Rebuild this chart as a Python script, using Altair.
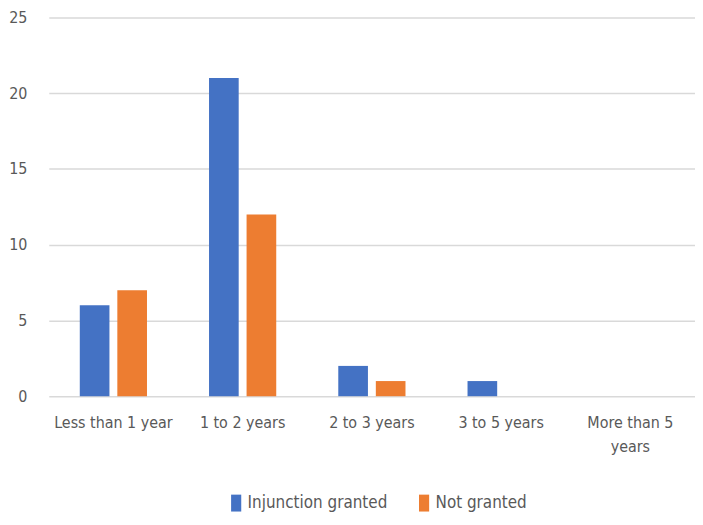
import altair as alt
import pandas as pd

categories = ["Less than 1 year", "1 to 2 years", "2 to 3 years", "3 to 5 years", "More than 5 years"]
series_names = ["Injunction granted", "Not granted"]
injunction_granted = [6, 21, 2, 1, 0]
not_granted = [7, 12, 1, 0, 0]
colors = ["#4472C4", "#ED7D31"]
y_ticks = [0, 5, 10, 15, 20, 25]

rows = []
for c, a, b in zip(categories, injunction_granted, not_granted):
    rows.append({"category": c, "series": series_names[0], "value": a})
    rows.append({"category": c, "series": series_names[1], "value": b})
df = pd.DataFrame(rows)

font = "DejaVu Sans Condensed, sans-serif"
label_color = "#595959"

chart = alt.Chart(df).mark_bar().encode(
    x=alt.X(
        "category:N", sort=categories,
        scale=alt.Scale(paddingInner=0.48, paddingOuter=0.24),
        axis=alt.Axis(
            title=None, labelAngle=0, ticks=False, domain=False, grid=False,
            labelFont=font, labelFontSize=16, labelColor=label_color,
            labelPadding=18, labelLineHeight=25, labelBaseline="top",
            labelExpr="datum.label == 'More than 5 years' ? ['More than 5', 'years'] : datum.label",
        ),
    ),
    xOffset=alt.XOffset("series:N", sort=series_names,
                        scale=alt.Scale(paddingInner=0.21, paddingOuter=0)),
    y=alt.Y(
        "value:Q", scale=alt.Scale(domain=[0, 25]),
        axis=alt.Axis(
            title=None, values=y_ticks, ticks=False, domain=False,
            labelFont=font, labelFontSize=16, labelColor=label_color,
            labelPadding=22, gridColor="#D9D9D9", gridWidth=1.5,
        ),
    ),
    color=alt.Color(
        "series:N", sort=series_names,
        scale=alt.Scale(domain=series_names, range=colors),
        legend=alt.Legend(
            title=None, orient="none", direction="horizontal",
            legendX=180, legendY=480,
            symbolType="M-0.6,-1H0.6V1H-0.6Z", symbolSize=289,
            symbolStrokeWidth=0, labelFont=font, labelFontSize=17,
            labelColor=label_color, labelOffset=3, columnPadding=28,
            labelLimit=0,
        ),
    ),
).properties(
    width=650, height=381,
    padding={"left": 0, "top": 0, "right": 0, "bottom": 0},
).configure_view(stroke=None)

chart.save("out.html", embed_options={"renderer": "svg", "actions": False})
